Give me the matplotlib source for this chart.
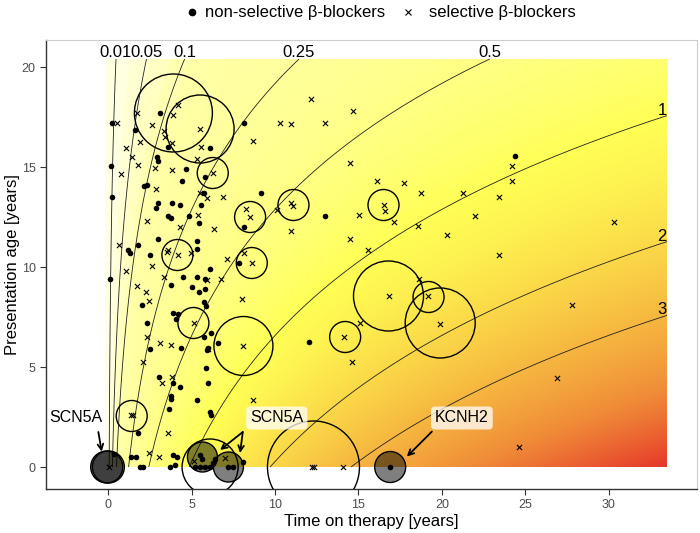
import numpy as np
import matplotlib
matplotlib.use('Agg')
import matplotlib.pyplot as plt
from matplotlib.colors import LinearSegmentedColormap
from matplotlib.lines import Line2D

plt.rcParams['font.family'] = ['Liberation Sans', 'DejaVu Sans']

# ---------------- data ----------------
nonsel_x = [0.2, 0.16, 0.22, 0.1, 1.6, 3.1, 3.58, 2.9, 3.0, 6.1, 8.16, 5.8, 4.66, 4.44,
            2.15, 2.3, 9.16, 5.76, 3.84, 4.32, 3.0, 2.88, 5.54, 3.6, 3.75, 4.84, 5.42, 8.12,
            3.0, 5.34, 1.76, 1.2, 1.3, 2.5, 5.34, 6.12, 7.82, 4.46, 5.34, 5.78, 3.76, 5.02,
            5.46, 5.82, 2.0, 5.76, 5.86, 3.9, 4.2, 4.06, 2.34, 5.76, 6.18, 6.58, 2.5, 4.34,
            5.9, 5.98, 5.84, 3.04, 3.9, 4.3, 6.0, 3.74, 3.78, 3.66, 5.3, 6.1, 6.14, 1.76,
            3.9, 4.1, 1.38, 1.64, 1.9, 2.1, 4.0, 3.7, 24.4, 13.0, 12.05, 16.9, 5.5, 5.6,
            5.2, 5.5, 5.8, 6.1, 6.3, 6.4, 7.2, 7.5, 8.1, 0.35]
nonsel_y = [17.2, 15.05, 13.5, 9.4, 16.85, 17.7, 16.0, 15.5, 15.3, 15.95, 17.2, 14.5, 14.9, 14.3,
            14.05, 14.1, 13.7, 13.7, 13.2, 13.1, 13.2, 12.95, 13.1, 12.55, 12.45, 12.55, 12.2, 12.0,
            11.4, 11.3, 11.1, 10.85, 10.7, 10.6, 10.9, 9.9, 10.2, 9.5, 9.5, 9.4, 9.1, 9.0,
            8.75, 8.9, 8.1, 8.25, 8.05, 7.7, 7.65, 7.4, 7.2, 6.5, 6.7, 6.2, 5.9, 5.95,
            5.85, 5.95, 4.95, 4.5, 4.2, 4.0, 4.2, 3.55, 3.4, 2.9, 3.35, 2.75, 2.6, 1.7,
            0.6, 0.5, 0.5, 0.5, 0.0, 0.0, 0.1, 0.0, 15.55, 12.55, 6.25, 0.0, 0.6, 0.4,
            0.0, 0.0, 0.0, 0.0, 0.2, 0.4, 0.0, 0.0, 0.27, 0.65]

sel_x = [0.5, 1.74, 2.64, 4.16, 3.88, 3.34, 3.38, 3.82, 5.5, 1.9, 1.06, 1.4, 1.76, 5.54, 5.32,
         2.82, 3.84, 0.74, 6.26, 8.68, 10.3, 2.84, 5.5, 5.94, 6.9, 5.4, 2.3, 4.32, 6.34, 8.28,
         8.5, 10.14, 10.94, 11.1, 0.64, 3.6, 3.5, 4.16, 4.98, 7.1, 8.16, 8.6, 2.6, 1.06, 3.34,
         1.74, 2.24, 2.44, 5.9, 6.74, 8.02, 5.12, 2.3, 3.1, 3.74, 6.0, 8.1, 2.1, 3.82, 3.2,
         8.68, 1.38, 1.45, 3.58, 2.42, 3.02, 5.16, 7.02, 0.06,
         12.16, 14.68, 10.94, 13.0, 14.5, 16.08, 17.74, 18.76, 21.24, 23.44, 24.18, 24.18,
         22.0, 18.58, 20.3, 15.02, 17.1, 16.54, 16.58, 10.98, 14.5, 23.4, 15.6, 18.6, 16.84,
         19.18, 19.88, 15.1, 14.16, 14.6, 26.9, 30.3, 27.8, 24.6, 12.2, 12.34, 14.1]
sel_y = [17.2, 17.7, 17.1, 18.1, 17.6, 16.8, 16.5, 16.2, 16.9, 16.25, 15.95, 15.5, 15.1, 16.0, 15.4,
         14.95, 14.85, 14.65, 14.7, 16.3, 17.2, 13.9, 13.7, 13.45, 13.5, 12.6, 12.3, 12.0, 11.9, 12.9,
         12.5, 12.85, 13.2, 13.05, 11.1, 10.85, 10.75, 10.6, 10.7, 10.4, 10.7, 10.2, 10.05, 9.8, 9.5,
         9.05, 8.75, 8.3, 9.35, 9.4, 8.4, 7.2, 6.5, 6.2, 6.1, 5.9, 6.05, 5.25, 4.5, 4.2,
         3.35, 2.6, 2.6, 1.7, 0.7, 0.5, 0.3, 0.45, 0.0,
         18.4, 17.8, 17.15, 17.2, 15.2, 14.3, 14.2, 13.7, 13.7, 13.5, 15.05, 14.3,
         12.55, 12.05, 11.6, 12.6, 12.27, 13.1, 12.8, 11.8, 11.4, 10.6, 10.85, 9.4, 8.55,
         8.53, 7.17, 7.18, 6.49, 5.24, 4.43, 12.26, 8.1, 0.98, 0.0, 0.0, 0.0]

# event circles (open): centre and relative size
event_x = [3.9, 5.5, 6.26, 8.5, 8.6, 4.14, 11.1, 5.1, 8.1, 1.4, 16.5, 16.8, 19.2, 19.9, 14.2, 12.3, 6.1]
event_y = [17.7, 16.9, 14.7, 12.5, 10.2, 10.6, 13.1, 7.2, 6.05, 2.55, 13.1, 8.55, 8.5, 7.2, 6.5, 0.0, 0.0]
event_size = [39, 34, 15.5, 15.5, 15.5, 15.5, 15.5, 15.5, 29.5, 15.5, 15.5, 35, 15.5, 35, 15.5, 46, 28]

# genotyped events (grey filled)
geno_x = [-0.1, 0.0, 5.64, 7.2, 16.9]
geno_y = [0.0, 0.0, 0.5, 0.0, 0.0]
geno_size = [16, 16, 15, 15, 15.5]

# risk surface parameters and contour levels
rate_scale = 4.85
age_coef = 0.11
levels = [0.01, 0.05, 0.1, 0.25, 0.5, 1, 2, 3]
level_labels = ['0.01', '0.05', '0.1', '0.25', '0.5', '1', '2', '3']
surf_x = (-0.2, 33.5)
surf_y = (0.0, 20.4)

# ---------------- figure ----------------
W, H = 700, 533
fig = plt.figure(figsize=(W / 100, H / 100), dpi=100)
L, R, B, T = 46, 697, 489, 40
ax = fig.add_axes([L / W, 1 - B / H, (R - L) / W, (B - T) / H])
ax.set_xlim(-3.74, 35.3)
ax.set_ylim(-1.1, 21.35)

gx = np.linspace(surf_x[0], surf_x[1], 400)
gy = np.linspace(surf_y[0], surf_y[1], 300)
GX, GY = np.meshgrid(gx, gy)
F = np.clip(GX, 0, None) * np.exp(-age_coef * GY) / rate_scale

vmax = 6.9
stops = [(0.0, '#FFFFE2'), (0.1, '#FFFFA8'), (1.0, '#FFFF55'), (2.0, '#FBD848'),
         (3.0, '#F6B640'), (4.5, '#F08C38'), (6.9, '#E5382A')]
cmap = LinearSegmentedColormap.from_list('risk', [(v / vmax, c) for v, c in stops])
ax.imshow(F, origin='lower', extent=[surf_x[0], surf_x[1], surf_y[0], surf_y[1]],
          aspect='auto', cmap=cmap, vmin=0, vmax=vmax, interpolation='bilinear', zorder=0)

ax.contour(GX, GY, F, levels=levels, colors='#222222', linewidths=0.6, zorder=1)
for lv, lab in zip(levels, level_labels):
    xt = lv * rate_scale * np.exp(age_coef * surf_y[1])
    if xt <= surf_x[1]:
        ax.text(xt, surf_y[1] - 0.05, lab, ha='center', va='bottom', fontsize=12, zorder=5)
    else:
        yr = np.log(surf_x[1] / (lv * rate_scale)) / age_coef
        ax.text(surf_x[1], yr - 0.1, lab, ha='right', va='bottom', fontsize=12, zorder=5)

px2pt = 72 / 100
ax.scatter(nonsel_x, nonsel_y, s=(5.6 * px2pt) ** 2, c='black', marker='o', linewidths=0, zorder=3)
ax.scatter(sel_x, sel_y, s=(5.2 * px2pt) ** 2, c='black', marker='x', linewidths=0.8, zorder=3)
ax.scatter(event_x, event_y, s=[(2 * r * px2pt) ** 2 for r in event_size], facecolors='none',
           edgecolors='black', linewidths=1.0, zorder=4)
ax.scatter(geno_x, geno_y, s=[(2 * r * px2pt) ** 2 for r in geno_size], facecolors=(0, 0, 0, 0.5),
           edgecolors='black', linewidths=1.0, zorder=4)

aprops = dict(arrowstyle='->', lw=1.3, color='black', shrinkA=0, shrinkB=0)
ax.annotate('', xy=(-0.4, 0.77), xytext=(-0.6, 1.75), arrowprops=aprops, zorder=6)
ax.text(-1.93, 2.45, 'SCN5A', ha='center', va='center', fontsize=11.5, zorder=6)
ax.annotate('', xy=(6.7, 0.85), xytext=(8.06, 1.75), arrowprops=aprops, zorder=6)
ax.annotate('', xy=(7.9, 0.7), xytext=(8.06, 1.75), arrowprops=aprops, zorder=6)
ax.text(10.1, 2.45, 'SCN5A', ha='center', va='center', fontsize=11.5, zorder=6,
        bbox=dict(boxstyle='round,pad=0.25', fc=(1, 1, 1, 0.75), ec='none'))
ax.annotate('', xy=(17.9, 0.52), xytext=(19.4, 1.77), arrowprops=aprops, zorder=6)
ax.text(21.2, 2.45, 'KCNH2', ha='center', va='center', fontsize=11.5, zorder=6,
        bbox=dict(boxstyle='round,pad=0.25', fc=(1, 1, 1, 0.75), ec='none'))

ax.set_xticks([0, 5, 10, 15, 20, 25, 30])
ax.set_yticks([0, 5, 10, 15, 20])
ax.tick_params(axis='both', direction='out', length=4, width=0.8, color='#333333',
               labelcolor='#4D4D4D', labelsize=9)
for s in ['left', 'bottom']:
    ax.spines[s].set_color('#333333')
    ax.spines[s].set_linewidth(1.0)
for s in ['top', 'right']:
    ax.spines[s].set_color('#CCCCCC')
    ax.spines[s].set_linewidth(0.8)
ax.set_xlabel('Time on therapy [years]', fontsize=12, labelpad=2)
ax.set_ylabel('Presentation age [years]', fontsize=12, labelpad=1)

# legend (top)
ly = 1 - 12 / H
fig.add_artist(Line2D([192 / W], [ly], marker='o', color='black', markersize=4.5,
                      linestyle='none', transform=fig.transFigure))
fig.text(205 / W, ly, 'non-selective β-blockers', ha='left', va='center', fontsize=12)
fig.add_artist(Line2D([408 / W], [ly], marker='x', color='black', markersize=4,
                      markeredgewidth=0.8, linestyle='none', transform=fig.transFigure))
fig.text(429 / W, ly, 'selective β-blockers', ha='left', va='center', fontsize=12)

fig.savefig('out.png', dpi=100)
